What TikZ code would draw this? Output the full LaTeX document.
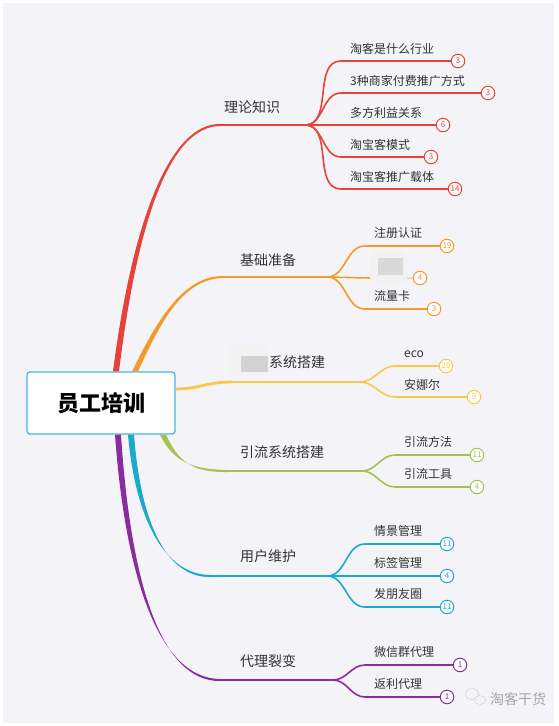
\documentclass[tikz,border=0pt]{standalone}
\usepackage{fontspec}
\setmainfont{Noto Sans CJK SC}
\usetikzlibrary{calc,positioning}
\definecolor{hong}{HTML}{E8413A}
\definecolor{cheng}{HTML}{F39A2C}
\definecolor{huang}{HTML}{F7C84A}
\definecolor{lv}{HTML}{A5C24C}
\definecolor{lan}{HTML}{1DA9CB}
\definecolor{zi}{HTML}{8A2D9C}
\definecolor{bianlan}{HTML}{4BB4E6}
\definecolor{dise}{HTML}{F4F4F8}
\definecolor{zi0}{HTML}{333333}
\tikzset{
  gen/.style={draw=bianlan,line width=1.3pt,fill=white,rounded corners=3pt,minimum width=148pt,
              minimum height=62pt,font=\fontsize{22}{24}\selectfont\bfseries,text=black},
  zhi/.style={anchor=west,font=\fontsize{14}{16}\selectfont,text=zi0,inner sep=0pt},
  ye/.style={anchor=west,font=\fontsize{12}{14}\selectfont,text=zi0,inner sep=0pt},
  quan/.style={circle,draw=#1,text=#1,fill=white,line width=1pt,inner sep=0pt,minimum size=13.5pt,
               font=\fontsize{8}{8}\selectfont},
  xian/.style={draw=#1,line width=1.6pt},
  mohu/.style={fill=gray!10,rounded corners=9pt},
}
% tapered main branch: colour, start, control 1, control 2, end
\newcommand\zweig[5]{%
  \fill[#1] ($(#2)+(-3,0)$) .. controls ($(#3)+(-2.5,0)$) and ($(#4)+(0,-1.5)$) .. ($(#5)+(0,-1)$)
    -- ($(#5)+(0,1)$) .. controls ($(#4)+(0,1.5)$) and ($(#3)+(2.5,0)$) .. ($(#2)+(3,0)$) -- cycle;}

\begin{document}
\begin{tikzpicture}[x=1pt,y=-1pt]
  \useasboundingbox (0,0) rectangle (558,726);
  \fill[white] (0,0) rectangle (558,726);
  \fill[dise] (3,3) rectangle (554,723);

  \node[gen] (root) at (101,403) {员工培训};

  % start points on the root box, ends and forks of the branches
  \coordinate (s1) at ($(root.north)+(15,0)$);
  \coordinate (s2) at ($(root.north)+(34,0)$);
  \coordinate (s3) at ($(root.east)+(0,-14)$);
  \coordinate (s4) at ($(root.south)+(62,0)$);
  \coordinate (s5) at ($(root.south)+(30,0)$);
  \coordinate (s6) at ($(root.south)+(17,0)$);
  \coordinate (e1) at (220,125); \coordinate (f1) at (305,125);
  \coordinate (e2) at (223,277); \coordinate (f2) at (327,277);
  \coordinate (e3) at (232,382); \coordinate (f3) at (360,382);
  \coordinate (e4) at (228,471); \coordinate (f4) at (362,471);
  \coordinate (e5) at (210,576); \coordinate (f5) at (327,576);
  \coordinate (e6) at (220,680); \coordinate (f6) at (333,680);

  \zweig{hong}{s1}{135,220}{170,125}{e1}
  \zweig{cheng}{s2}{155,330}{180,277}{e2}
  \zweig{lv}{s4}{176,462}{192,471}{e4}
  \zweig{lan}{s5}{138,520}{165,576}{e5}
  \zweig{zi}{s6}{128,580}{160,680}{e6}
  \draw[huang,line width=2.8pt] (s3) .. controls (200,389) and (205,382) .. (e3);
  \draw[xian=hong] (e1) -- (f1);
  \draw[xian=cheng] (e2) -- (f2);
  \draw[xian=huang] (e3) -- (f3);
  \draw[xian=lv] (e4) -- (f4);
  \draw[xian=lan] (e5) -- (f5);
  \draw[xian=zi] (e6) -- (f6);

  % branch labels
  \node[zhi] (z1) at (224,107) {理论知识};
  \node[zhi] (z2) at (240,260) {基础准备};
  \fill[mohu] (228,344) rectangle (268,378);
  \fill[gray!35] (241,356) rectangle (268,372);
  \node[zhi] (z3) at (269,362) {系统搭建};
  \node[zhi] (z4) at (240,452) {引流系统搭建};
  \node[zhi] (z5) at (240,556) {用户维护};
  \node[zhi] (z6) at (240,661) {代理裂变};

  % leaves
  \foreach \n/\y/\bx/\z/\txt in {a/61/458/3/淘客是什么行业, b/93/488/3/3种商家付费推广方式,
      c/125/443/6/多方利益关系, d/157/431/3/淘宝客模式, e/189/455/14/淘宝客推广载体} {
    \node[ye] (t\n) at (350,\y-12) {\txt};
    \node[quan=hong] (b\n) at (\bx,\y) {\z};
    \draw[xian=hong] (f1) to[out=0,in=180] ($(b\n -| t\n.west)+(-9,0)$) -- (b\n);
  }
  \foreach \n/\y/\bx/\z/\txt in {f/246/447/19/注册认证, h/309/434/3/流量卡} {
    \node[ye] (t\n) at (374,\y-13) {\txt};
    \node[quan=cheng] (b\n) at (\bx,\y) {\z};
    \draw[xian=cheng] (f2) to[out=0,in=180] ($(b\n -| t\n.west)+(-9,0)$) -- (b\n);
  }
  \fill[mohu] (370,250) rectangle (407,285);
  \fill[gray!30] (378,258) rectangle (403,275);
  \node[quan=cheng] (bg) at (420,278) {4};
  \draw[xian=cheng] (f2) -- (370,278);
  \draw[xian=cheng!40] (407,278) -- (bg);
  \foreach \n/\y/\bx/\z/\txt in {i/366/446/20/eco, j/397/474/9/安娜尔} {
    \node[ye] (t\n) at (404,\y-12) {\txt};
    \node[quan=huang] (b\n) at (\bx,\y) {\z};
    \draw[xian=huang] (f3) to[out=0,in=180] ($(b\n -| t\n.west)+(-9,0)$) -- (b\n);
  }
  \foreach \n/\y/\bx/\z/\txt in {k/455/477/11/引流方法, l/487/477/4/引流工具} {
    \node[ye] (t\n) at (404,\y-13) {\txt};
    \node[quan=lv] (b\n) at (\bx,\y) {\z};
    \draw[xian=lv] (f4) to[out=0,in=180] ($(b\n -| t\n.west)+(-9,0)$) -- (b\n);
  }
  \foreach \n/\y/\bx/\z/\txt in {m/544/447/11/情景管理, o/576/447/4/标签管理, p/607/447/11/发朋友圈} {
    \node[ye] (t\n) at (374,\y-13) {\txt};
    \node[quan=lan] (b\n) at (\bx,\y) {\z};
    \draw[xian=lan] (f5) to[out=0,in=180] ($(b\n -| t\n.west)+(-9,0)$) -- (b\n);
  }
  \foreach \n/\y/\bx/\z/\txt in {q/665/460/1/微信群代理, r/697/447/1/返利代理} {
    \node[ye] (t\n) at (374,\y-13) {\txt};
    \node[quan=zi] (b\n) at (\bx,\y) {\z};
    \draw[xian=zi] (f6) to[out=0,in=180] ($(b\n -| t\n.west)+(-9,0)$) -- (b\n);
  }

  % watermark
  \draw[gray!45,line width=0.6pt,dash pattern=on 1.5pt off 1pt] (472,694) ellipse (6.5pt and 5.5pt);
  \draw[gray!45,line width=0.6pt,dash pattern=on 1.5pt off 1pt,fill=dise] (480,700) ellipse (5.5pt and 4.5pt);
  \node[anchor=west,text=gray!70,inner sep=0pt,font=\fontsize{14}{16}\selectfont] (wz) at (490,699) {淘客干货};
\end{tikzpicture}
\end{document}
